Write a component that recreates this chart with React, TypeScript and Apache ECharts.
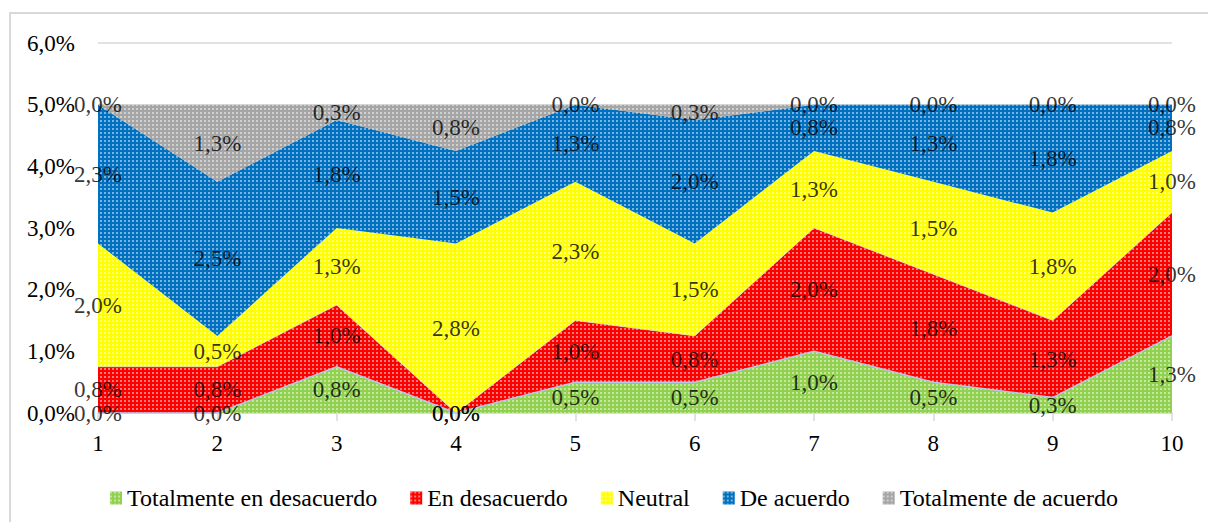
import React, { useEffect, useRef } from "react";
import * as echarts from "echarts";

const categories = ["1", "2", "3", "4", "5", "6", "7", "8", "9", "10"];
const seriesNames = [
  "Totalmente en desacuerdo",
  "En desacuerdo",
  "Neutral",
  "De acuerdo",
  "Totalmente de acuerdo",
];
// values in percent
const totDesacuerdo = [0, 0, 0.75, 0, 0.5, 0.5, 1.0, 0.5, 0.25, 1.25];
const enDesacuerdo = [0.75, 0.75, 1.0, 0, 1.0, 0.75, 2.0, 1.75, 1.25, 2.0];
const neutral = [2.0, 0.5, 1.25, 2.75, 2.25, 1.5, 1.25, 1.5, 1.75, 1.0];
const deAcuerdo = [2.25, 2.5, 1.75, 1.5, 1.25, 2.0, 0.75, 1.25, 1.75, 0.75];
const totAcuerdo = [0, 1.25, 0.25, 0.75, 0, 0.25, 0, 0, 0, 0];
const yTicks = [0, 1, 2, 3, 4, 5, 6];

const colors = ["#92D050", "#FF0000", "#FFFF00", "#0070C0", "#A5A5A5"];
const FONT = "Liberation Serif";

const fmt = (v: number) => v.toFixed(1).replace(".", ",") + "%";

export default function App() {
  const ref = useRef<HTMLDivElement>(null);
  useEffect(() => {
    if (!ref.current) return;
    const chart = echarts.init(ref.current, undefined, { renderer: "svg" });
    const all = [totDesacuerdo, enDesacuerdo, neutral, deAcuerdo, totAcuerdo];
    const decal = {
      symbol: "rect",
      symbolSize: 0.8,
      dashArrayX: [2, 2],
      dashArrayY: [2, 2],
      rotation: 0,
      color: "rgba(255,255,255,0.8)",
    };
    const areaSeries = all.map((vals, i) => ({
      name: seriesNames[i],
      type: "line",
      stack: "total",
      data: vals,
      showSymbol: false,
      symbol: "none",
      z: 2,
      lineStyle:
        i === 0
          ? { color: "#B4C7E7", width: 1.5 }
          : i === 1
          ? { color: "rgba(200,210,235,0.6)", width: 1 }
          : { width: 0 },
      itemStyle: { color: colors[i], decal },
      areaStyle: { color: colors[i], opacity: 1 },
      emphasis: { disabled: true },
    }));
    const labelSeries = all.map((vals, i) => ({
      name: seriesNames[i] + "_lbl",
      type: "scatter",
      z: 10,
      symbolSize: 0.1,
      itemStyle: { color: "transparent" },
      silent: true,
      data: vals.map((v, j) => {
        let below = 0;
        for (let k = 0; k < i; k++) below += all[k][j];
        return { value: [j, below + v / 2], raw: v };
      }),
      label: {
        show: true,
        position: "inside",
        color: "#000",
        fontFamily: FONT,
        fontSize: 23,
        formatter: (p: any) => fmt(p.data.raw),
      },
      labelLayout: { hideOverlap: false },
    }));
    chart.setOption({
      animation: false,
      textStyle: { fontFamily: FONT },
      grid: { left: 98, right: 36, top: 43, bottom: 109, containLabel: false },
      legend: {
        data: seriesNames,
        left: 105,
        top: 481,
        itemWidth: 12,
        itemHeight: 13,
        itemGap: 33,
        icon: "rect",
        textStyle: { fontFamily: FONT, fontSize: 24, color: "#000" },
      },
      xAxis: {
        type: "category",
        data: categories,
        boundaryGap: false,
        axisLine: { lineStyle: { color: "#D9D9D9", width: 1.5 } },
        axisTick: { show: true, length: 8, lineStyle: { color: "#D9D9D9", width: 1.5 } },
        axisLabel: { color: "#000", fontFamily: FONT, fontSize: 23, margin: 19 },
        splitLine: { show: false },
      },
      yAxis: {
        type: "value",
        min: yTicks[0],
        max: yTicks[yTicks.length - 1],
        interval: 1,
        axisLine: { show: false },
        axisTick: { show: false },
        axisLabel: {
          color: "#000",
          fontFamily: FONT,
          fontSize: 23,
          margin: 23,
          formatter: (v: number) => fmt(v),
        },
        splitLine: { lineStyle: { color: "#D9D9D9", width: 1.5 } },
      },
      graphic: [
        {
          type: "rect",
          shape: { x: 10, y: 13, width: 1300, height: 700 },
          style: { fill: "none", stroke: "#D9D9D9", lineWidth: 2 },
          silent: true,
          z: -1,
        },
      ],
      series: [...areaSeries, ...labelSeries],
    });
    return () => chart.dispose();
  }, []);
  return (
    <div
      ref={ref}
      style={{ position: "absolute", left: 0, top: 0, width: 1208, height: 522, background: "#fff" }}
    />
  );
}
